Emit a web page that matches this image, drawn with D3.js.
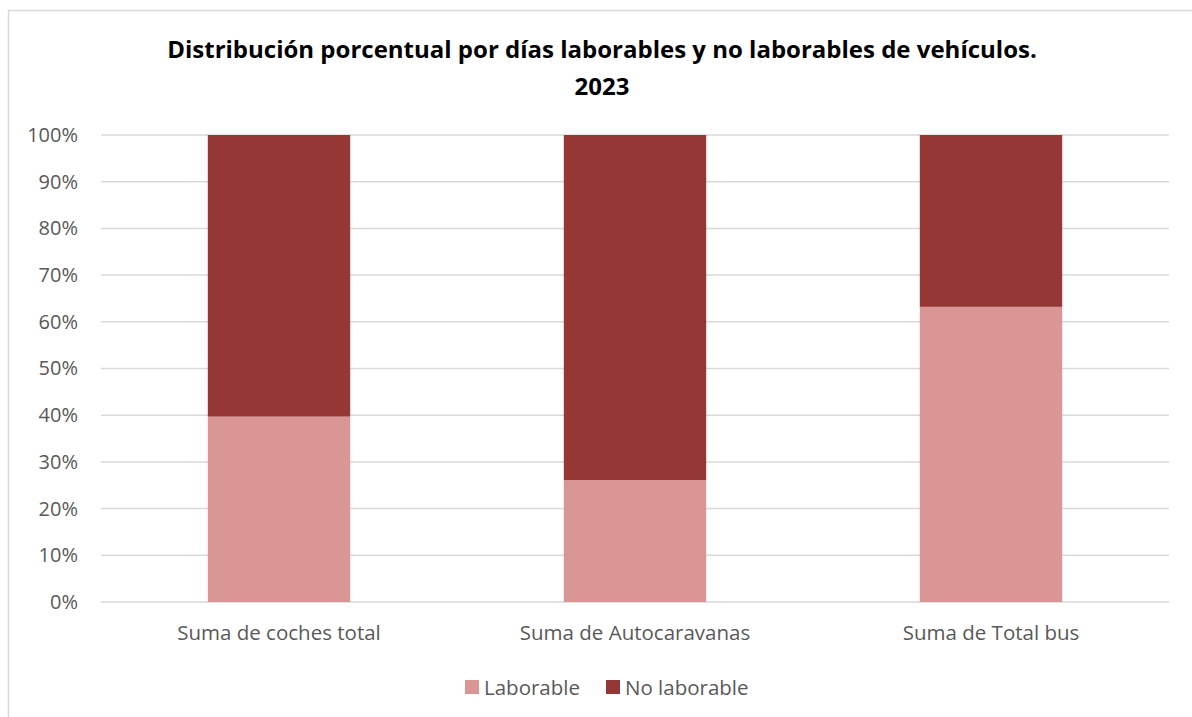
<!DOCTYPE html>
<html><head><meta charset="utf-8">
<script src="https://cdn.jsdelivr.net/npm/d3@7"></script>
<style>body{margin:0;background:#fff}svg{display:block}</style>
</head><body>
<svg id="c" width="1192" height="717"></svg>
<script>
const categories = ["Suma de coches total", "Suma de Autocaravanas", "Suma de Total bus"];
const laborable = [0.397, 0.261, 0.632];
const noLaborable = [0.603, 0.739, 0.368];
const seriesNames = ["Laborable", "No laborable"];
const tickValues = [0,0.1,0.2,0.3,0.4,0.5,0.6,0.7,0.8,0.9,1.0];
const colors = ["#DA9694", "#953735"];
const titleLines = ["Distribución porcentual por días laborables y no laborables de vehículos.", "2023"];

const svg = d3.select("#c");
const font = "'Open Sans', 'Noto Sans', sans-serif";
svg.append("rect").attr("x",8.5).attr("y",10.5).attr("width",1200).attr("height",720)
  .attr("fill","#fff").attr("stroke","#d9d9d9").attr("stroke-width",1.5);

const m = {l:101, r:1169, t:135, b:602};
const x = d3.scaleBand().domain(categories).range([m.l, m.r]).paddingInner(0.6).paddingOuter(0.3);
const y = d3.scaleLinear().domain([0,1]).range([m.b, m.t]);

// grid
svg.append("g").selectAll("line").data(tickValues).join("line")
  .attr("x1", m.l).attr("x2", m.r).attr("y1", d=>y(d)).attr("y2", d=>y(d))
  .attr("stroke","#d9d9d9").attr("stroke-width",1.5);

const data = categories.map((c,i)=>({cat:c, Laborable:laborable[i], "No laborable":noLaborable[i]}));
const stack = d3.stack().keys(seriesNames)(data);
svg.append("g").selectAll("g").data(stack).join("g").attr("fill",(d,i)=>colors[i])
  .selectAll("rect").data(d=>d).join("rect")
  .attr("x", d=>x(d.data.cat)).attr("width", x.bandwidth())
  .attr("y", d=>y(d[1])).attr("height", d=>y(d[0])-y(d[1]));

// y axis labels
const ya = svg.append("g").attr("transform",`translate(${m.l},0)`)
  .call(d3.axisLeft(y).tickValues(tickValues).tickFormat(d3.format(".0%")).tickSize(0).tickPadding(23));
ya.select(".domain").remove();
ya.selectAll("text").attr("font-family",font).attr("font-size",20).attr("fill","#595959");

const xa = svg.append("g").attr("transform",`translate(0,${m.b})`)
  .call(d3.axisBottom(x).tickSize(0).tickPadding(23));
xa.select(".domain").remove();
xa.selectAll("text").attr("font-family",font).attr("font-size",20.5).attr("fill","#595959");

// title
svg.append("g").selectAll("text").data(titleLines).join("text")
  .attr("x", 602).attr("y",(d,i)=>58+i*37).attr("text-anchor","middle")
  .attr("font-family",font).attr("font-weight","bold").attr("font-size",24).attr("fill","#000")
  .text(d=>d);

// legend
const lg = svg.append("g");
const lx = [465, 606];
seriesNames.forEach((s,i)=>{
  lg.append("rect").attr("x",lx[i]).attr("y",680).attr("width",14).attr("height",14).attr("fill",colors[i]);
  lg.append("text").attr("x",lx[i]+19).attr("y",694.5).attr("font-family",font).attr("font-size",20.5)
    .attr("fill","#595959").text(s);
});
</script>
</body></html>
